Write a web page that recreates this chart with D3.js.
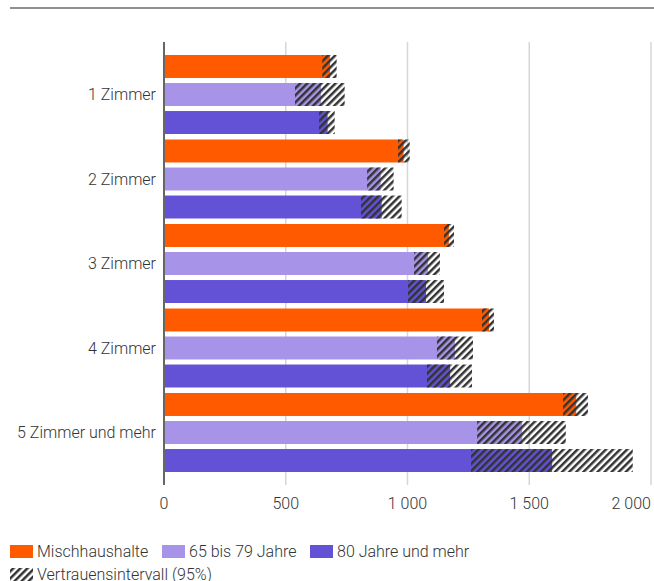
<!DOCTYPE html>
<html>
<head>
<meta charset="utf-8">
<script src="https://cdn.jsdelivr.net/npm/d3@7"></script>
<style>
  html, body { margin: 0; padding: 0; background: #fff; }
  svg { display: block; }
  text { font-family: Roboto, "Noto Sans", sans-serif; fill: #333; }
</style>
</head>
<body>
<svg id="chart" width="654" height="581"></svg>
<script>
// ---- data ----
const categories = ["1 Zimmer", "2 Zimmer", "3 Zimmer", "4 Zimmer", "5 Zimmer und mehr"];
const seriesNames = ["Mischhaushalte", "65 bis 79 Jahre", "80 Jahre und mehr"];
const mischValues = [682, 984, 1170, 1335, 1693];
const mischLow    = [650, 961, 1150, 1306, 1639];
const mischHigh   = [709, 1009, 1191, 1355, 1741];
const age65Values = [645, 890, 1084, 1195, 1471];
const age65Low    = [538, 834, 1027, 1121, 1286];
const age65High   = [742, 943, 1133, 1269, 1650];
const age80Values = [672, 894, 1076, 1175, 1594];
const age80Low    = [637, 809, 1002, 1080, 1261];
const age80High   = [701, 976, 1150, 1265, 1925];
const xTicks = [0, 500, 1000, 1500, 2000];
const ciLabel = "Vertrauensintervall (95%)";

const colors = ["#FF5A00", "#A794E8", "#6352D6"];
const seriesData = [
  { name: seriesNames[0], values: mischValues, low: mischLow, high: mischHigh },
  { name: seriesNames[1], values: age65Values, low: age65Low, high: age65High },
  { name: seriesNames[2], values: age80Values, low: age80Low, high: age80High }
];

const rows = [];
categories.forEach((c, i) => {
  seriesData.forEach((s, j) => {
    rows.push({ cat: c, series: s.name, si: j, v: s.values[i], lo: s.low[i], hi: s.high[i] });
  });
});

const svg = d3.select("#chart");

// pattern
const defs = svg.append("defs");
const pat = defs.append("pattern")
  .attr("id", "hatch")
  .attr("patternUnits", "userSpaceOnUse")
  .attr("width", 5).attr("height", 5)
  .attr("patternTransform", "rotate(45)");
pat.append("rect").attr("x", 0).attr("y", 0).attr("width", 2.5).attr("height", 5).attr("fill", "#333");

// top rule
svg.append("line")
  .attr("x1", 10).attr("x2", 654).attr("y1", 8).attr("y2", 8)
  .attr("stroke", "#222").attr("stroke-width", 1.2);

const x = d3.scaleLinear().domain([0, 2000]).range([164, 651]);
const y = d3.scaleBand().domain(categories).range([55, 472]).paddingInner(0.065).paddingOuter(0);
const yi = d3.scaleBand().domain(seriesNames).range([0, y.bandwidth()]).paddingInner(0.18).paddingOuter(0);

// grid
svg.append("g").selectAll("line")
  .data(xTicks.filter(d => d > 0))
  .join("line")
  .attr("x1", d => x(d)).attr("x2", d => x(d))
  .attr("y1", 42).attr("y2", 485)
  .attr("stroke", "#d6d6d6").attr("stroke-width", 1.5);

// bars
svg.append("g").selectAll("rect")
  .data(rows)
  .join("rect")
  .attr("x", x(0))
  .attr("y", d => y(d.cat) + yi(d.series))
  .attr("width", d => x(d.v) - x(0))
  .attr("height", yi.bandwidth())
  .attr("fill", d => colors[d.si]);

// confidence intervals
svg.append("g").selectAll("rect")
  .data(rows)
  .join("rect")
  .attr("x", d => x(d.lo))
  .attr("y", d => y(d.cat) + yi(d.series))
  .attr("width", d => x(d.hi) - x(d.lo))
  .attr("height", yi.bandwidth())
  .attr("fill", "url(#hatch)");

// y axis line
svg.append("line")
  .attr("x1", x(0)).attr("x2", x(0)).attr("y1", 42).attr("y2", 485)
  .attr("stroke", "#666").attr("stroke-width", 2);

// category labels
svg.append("g").selectAll("text")
  .data(categories)
  .join("text")
  .attr("x", 156)
  .attr("y", d => y(d) + y.bandwidth() / 2)
  .attr("dy", "0.35em")
  .attr("text-anchor", "end")
  .attr("font-size", 16)
  .attr("font-weight", 300)
  .text(d => d);

// x tick labels
const fmt = d => d3.format(",")(d).replace(/,/g, " ");
svg.append("g").selectAll("text")
  .data(xTicks)
  .join("text")
  .attr("x", d => x(d))
  .attr("y", 503)
  .attr("dy", "0.35em")
  .attr("text-anchor", (d, i) => i === xTicks.length - 1 ? "end" : "middle")
  .attr("font-size", 16)
  .attr("font-weight", 300)
  .text(d => fmt(d));

// legend
const legendItems = [
  { label: seriesNames[0], fill: colors[0], x: 10, y: 545 },
  { label: seriesNames[1], fill: colors[1], x: 162, y: 545 },
  { label: seriesNames[2], fill: colors[2], x: 310, y: 545 },
  { label: ciLabel, fill: "url(#hatch)", x: 10, y: 568 }
];
const lg = svg.append("g").selectAll("g").data(legendItems).join("g");
lg.append("rect")
  .attr("x", d => d.x).attr("y", d => d.y)
  .attr("width", 23).attr("height", 13)
  .attr("fill", d => d.fill);
lg.append("text")
  .attr("x", d => d.x + 27)
  .attr("y", d => d.y + 6.5)
  .attr("dy", "0.35em")
  .attr("font-size", 16)
  .attr("font-weight", 300)
  .text(d => d.label);
</script>
</body>
</html>
